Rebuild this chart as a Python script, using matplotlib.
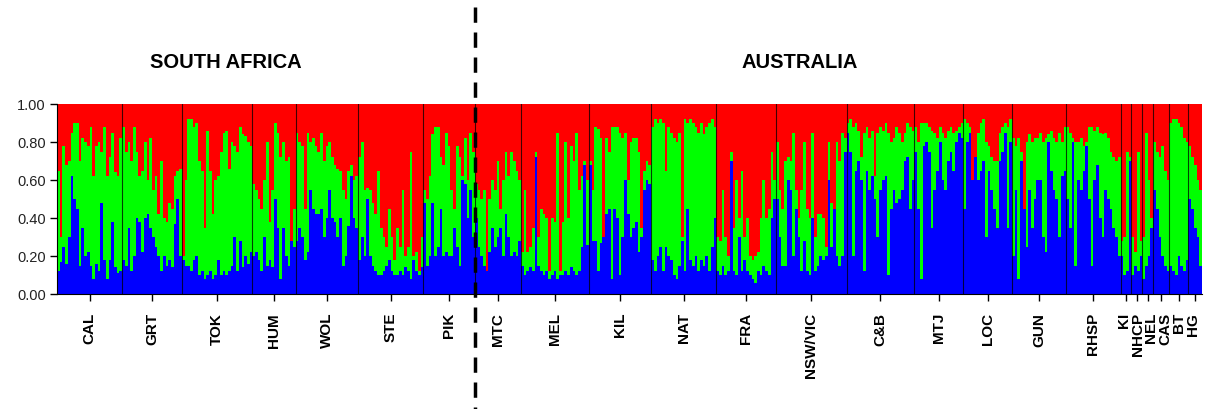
import matplotlib
matplotlib.use("Agg")
import matplotlib.pyplot as plt
from matplotlib.lines import Line2D
from matplotlib.transforms import blended_transform_factory

plt.rcParams["font.family"] = ["Liberation Sans", "DejaVu Sans"]

# Membership per individual, in percent: (blue cluster, blue + green cumulative).
# Red fills the remainder up to 100.
CAL = [(12, 65), (17, 30), (25, 78), (16, 68), (30, 70), (62, 85), (50, 90), (45, 90),
       (15, 70), (35, 82), (20, 80), (22, 78), (15, 88), (8, 62), (16, 78), (12, 80),
       (48, 75), (18, 88), (8, 62), (18, 72), (38, 85), (14, 64), (11, 62), (12, 82)]
GRT = [(18, 88), (15, 75), (35, 80), (12, 70), (20, 88), (40, 75), (38, 62), (22, 65),
       (40, 80), (42, 60), (35, 82), (30, 55), (25, 62), (20, 42), (12, 70), (20, 40),
       (15, 38), (18, 48), (14, 45), (37, 62), (50, 65), (20, 66)]
TOK = [(18, 20), (15, 60), (15, 92), (12, 92), (18, 88), (20, 90), (10, 70), (12, 65),
       (8, 35), (10, 86), (12, 65), (8, 42), (10, 60), (18, 62), (10, 75), (12, 85),
       (10, 86), (12, 66), (15, 80), (30, 78), (12, 75), (28, 88), (14, 84), (20, 83),
       (16, 80), (22, 78)]
HUM = [(20, 58), (22, 55), (18, 50), (12, 45), (30, 60), (15, 80), (18, 38), (14, 55),
       (50, 90), (35, 85), (8, 72), (35, 80), (20, 70), (15, 72), (30, 28), (25, 45)]
WOL = [(28, 85), (35, 80), (30, 78), (18, 45), (22, 85), (55, 80), (45, 82), (42, 78),
       (42, 75), (45, 85), (30, 70), (40, 78), (55, 80), (40, 72), (38, 68), (30, 66),
       (40, 65), (15, 55), (20, 50), (36, 65), (62, 68), (40, 60), (35, 62)]
STE = [(18, 72), (30, 80), (20, 55), (50, 56), (20, 55), (15, 48), (12, 42), (10, 65),
       (10, 35), (12, 30), (15, 25), (18, 45), (12, 30), (10, 18), (10, 35), (12, 25),
       (10, 55), (14, 20), (12, 25), (8, 75), (18, 20), (12, 22), (10, 12), (14, 30)]
PIK = [(48, 55), (15, 50), (20, 62), (48, 84), (20, 88), (25, 88), (45, 72), (20, 68),
       (22, 85), (20, 78), (20, 55), (35, 45), (25, 78), (15, 72), (60, 62), (58, 82),
       (40, 60), (55, 85), (30, 75)]
MTC = [(40, 58), (25, 55), (20, 50), (15, 55), (18, 12), (22, 50), (35, 60), (25, 55),
       (30, 70), (35, 45), (20, 60), (42, 75), (30, 62), (20, 75), (22, 70), (20, 65),
       (28, 60)]
MEL = [(15, 22), (10, 55), (12, 22), (14, 25), (12, 35), (72, 75), (15, 30), (12, 45),
       (10, 42), (12, 40), (8, 12), (10, 40), (12, 38), (8, 85), (10, 12), (10, 38),
       (12, 80), (10, 40), (14, 78), (12, 70), (10, 85), (12, 55), (25, 62), (68, 70),
       (26, 60)]
KIL = [(68, 70), (28, 55), (28, 88), (12, 87), (27, 82), (42, 30), (42, 82), (45, 75),
       (8, 88), (45, 88), (40, 88), (10, 85), (30, 82), (60, 85), (42, 60), (30, 80),
       (35, 82), (38, 82), (22, 75), (30, 35), (55, 65), (60, 70), (58, 68)]
NAT = [(18, 88), (12, 92), (20, 90), (25, 92), (12, 90), (25, 65), (20, 88), (18, 85),
       (10, 82), (8, 80), (15, 85), (28, 30), (12, 92), (45, 90), (18, 92), (15, 90),
       (20, 88), (12, 85), (18, 90), (15, 84), (20, 88), (12, 90), (25, 92), (40, 88)]
FRA = [(12, 30), (10, 28), (15, 55), (10, 30), (12, 20), (70, 75), (12, 35), (10, 60),
       (30, 40), (12, 65), (18, 30), (12, 40), (10, 20), (8, 18), (6, 20), (12, 22),
       (10, 40), (15, 60), (12, 40), (10, 45), (40, 75), (50, 60)]
NSW_VIC = [(50, 80), (30, 55), (15, 45), (15, 70), (60, 72), (55, 70), (20, 85), (45, 55),
           (30, 40), (12, 55), (28, 80), (12, 45), (10, 40), (40, 85), (12, 30), (15, 42),
           (20, 42), (18, 40), (20, 25), (60, 80), (25, 48), (50, 45), (20, 80), (15, 70),
           (20, 85), (75, 82)]
C_B = [(85, 90), (75, 92), (20, 88), (65, 90), (70, 86), (60, 72), (12, 85), (65, 88),
       (55, 82), (62, 86), (50, 62), (30, 85), (55, 88), (60, 86), (62, 90), (10, 85),
       (45, 80), (55, 82), (48, 88), (50, 85), (55, 80), (70, 85), (72, 90), (45, 88),
       (60, 86)]
MTJ = [(75, 88), (45, 80), (8, 90), (78, 90), (80, 90), (75, 88), (35, 86), (55, 85),
       (65, 82), (80, 88), (60, 85), (55, 82), (70, 86), (75, 88), (65, 85), (80, 86),
       (85, 88), (82, 90)]
LOC = [(45, 92), (80, 90), (85, 88), (75, 60), (78, 72), (60, 85), (65, 90), (70, 92),
       (30, 80), (65, 78), (55, 72), (45, 70), (35, 70), (70, 85), (75, 88), (85, 90),
       (35, 88), (80, 92)]
GUN = [(20, 82), (55, 78), (8, 82), (70, 75), (55, 45), (25, 80), (55, 84), (35, 80),
       (50, 82), (60, 82), (60, 85), (30, 80), (22, 82), (80, 84), (65, 86), (55, 82),
       (50, 80), (30, 85), (62, 80), (65, 88)]
RHSP = [(50, 88), (35, 85), (80, 82), (15, 80), (60, 80), (55, 82), (65, 78), (78, 80),
        (50, 88), (15, 88), (60, 86), (68, 88), (40, 85), (30, 84), (55, 85), (50, 82),
        (45, 75), (35, 72), (30, 70), (20, 72)]
KI = [(20, 28), (10, 30), (12, 75), (70, 72)]
NHCP = [(10, 30), (15, 22), (12, 75), (20, 28)]
NEL = [(8, 30), (15, 85), (20, 60), (35, 40)]
CAS = [(55, 80), (45, 75), (30, 72), (20, 78), (15, 65), (12, 60)]
BT = [(15, 90), (12, 92), (10, 92), (20, 90), (15, 88), (12, 82), (18, 80)]
HG = [(50, 78), (45, 72), (35, 68), (30, 60), (15, 55)]

populations = [("CAL", CAL), ("GRT", GRT), ("TOK", TOK), ("HUM", HUM), ("WOL", WOL),
               ("STE", STE), ("PIK", PIK), ("MTC", MTC), ("MEL", MEL), ("KIL", KIL),
               ("NAT", NAT), ("FRA", FRA), ("NSW/VIC", NSW_VIC), ("C&B", C_B),
               ("MTJ", MTJ), ("LOC", LOC), ("GUN", GUN), ("RHSP", RHSP), ("KI", KI),
               ("NHCP", NHCP), ("NEL", NEL), ("CAS", CAS), ("BT", BT), ("HG", HG)]
n_south_africa = 7  # first seven populations are South African

BLUE, GREEN, RED = "#0000ff", "#00ff00", "#ff0000"

# flatten into per-individual arrays
blue, green, red = [], [], []
bounds, centers, names = [0], [], []
for name, rows in populations:
    for b, t in rows:
        blue.append(b / 100)
        green.append((t - b) / 100)
        red.append(1 - t / 100)
    centers.append(bounds[-1] + len(rows) / 2)
    bounds.append(bounds[-1] + len(rows))
    names.append(name)
x = list(range(len(blue)))
bg_top = [b + g for b, g in zip(blue, green)]

W, H = 1221, 410
fig = plt.figure(figsize=(W / 100, H / 100), dpi=100)
ax = fig.add_axes([57 / W, 1 - 295 / H, (1202 - 57) / W, (295 - 105) / H])

kw = dict(width=1.0, align="edge", linewidth=0, antialiased=False)
ax.bar(x, blue, color=BLUE, **kw)
ax.bar(x, green, bottom=blue, color=GREEN, **kw)
ax.bar(x, red, bottom=bg_top, color=RED, **kw)

for b in bounds[1:-1]:
    ax.axvline(b, color="black", lw=0.8, alpha=0.75)

ax.set_xlim(0, bounds[-1])
ax.set_ylim(0, 1)
yt = [0, 0.2, 0.4, 0.6, 0.8, 1.0]
ax.set_yticks(yt)
ax.set_yticklabels([f"{v:.2f}" for v in yt], fontsize=10.5, color="#222222")
ax.set_xticks(centers)
ax.set_xticklabels([])
ax.tick_params(axis="y", length=5, width=1, pad=3)
ax.tick_params(axis="x", length=5, width=1)
for s in ("top", "right"):
    ax.spines[s].set_visible(False)

# population names hang below the axis; the crowded small ones are spread a bit
nudge = {"KI": -0.75, "NHCP": 0.25, "NEL": 1.2, "CAS": 1.4, "HG": -0.8}
trans = blended_transform_factory(ax.transData, ax.transAxes)
for c, name in zip(centers, names):
    ax.text(c + nudge.get(name, 0), -18 / 190, name, transform=trans, rotation=90,
            ha="center", va="top", fontsize=11, fontweight="bold")

# region headings
fig.text(226 / W, 1 - 62 / H, "SOUTH AFRICA", ha="center", va="center",
         fontsize=14.5, fontweight="bold")
fig.text(800 / W, 1 - 62 / H, "AUSTRALIA", ha="center", va="center",
         fontsize=14.5, fontweight="bold")

# dashed divider between the two regions, drawn across the whole figure
split = bounds[n_south_africa]
x_fig = fig.transFigure.inverted().transform(ax.transData.transform((split, 0)))[0]
plt.rcParams["lines.scale_dashes"] = False
divider = Line2D([x_fig, x_fig], [1 - 8 / H, 0], transform=fig.transFigure,
                 color="black", lw=2.5, linestyle=(0, (11, 7)), zorder=10)
fig.add_artist(divider)

fig.savefig("out.png", dpi=100)
